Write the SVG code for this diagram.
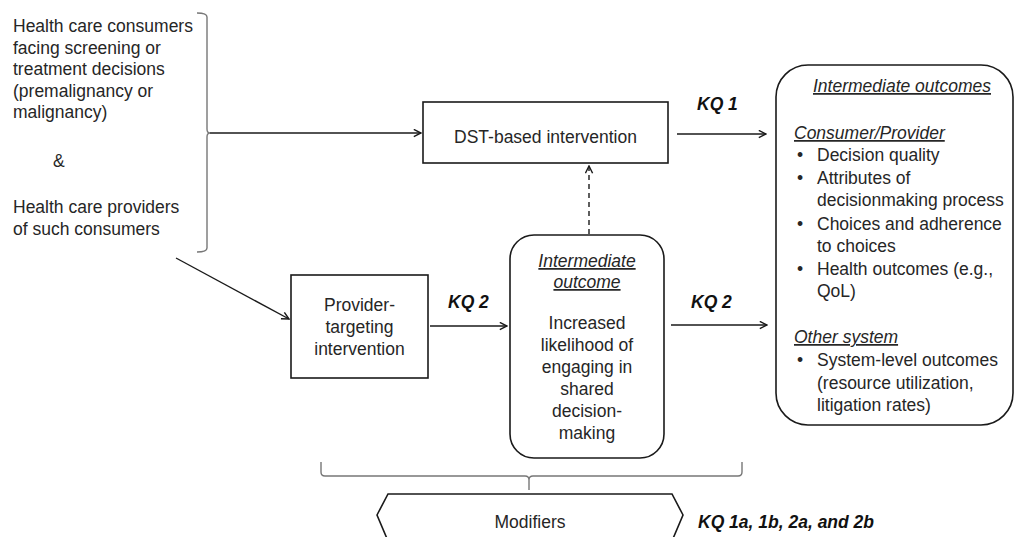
<svg xmlns="http://www.w3.org/2000/svg" width="1017" height="537" viewBox="0 0 1017 537">
<defs>
<style>
text{font-family:"Liberation Sans",Arial,sans-serif;font-size:17.5px;fill:#262626}
.c{text-anchor:middle}
.kq{font-weight:bold;font-style:italic;fill:#111}
.u{font-style:italic;text-decoration:underline}
.box{fill:#fff;stroke:#1a1a1a;stroke-width:1.6}
.br{fill:none;stroke:#777;stroke-width:1.4}
.ln{fill:none;stroke:#1a1a1a;stroke-width:1.4}
</style>
<marker id="ah" viewBox="0 0 10 10" refX="9" refY="5" markerWidth="9" markerHeight="9" markerUnits="userSpaceOnUse" orient="auto">
<path d="M1,1 L9,5 L1,9" fill="none" stroke="#1a1a1a" stroke-width="1.6"/>
</marker>
</defs>
<rect width="1017" height="537" fill="#fff"/>

<g id="populations">
<text x="13" y="32">Health care consumers</text>
<text x="13" y="53.5">facing screening or</text>
<text x="13" y="75">treatment decisions</text>
<text x="13" y="96.5">(premalignancy or</text>
<text x="13" y="118">malignancy)</text>
<text x="53" y="167">&amp;</text>
<text x="13" y="213">Health care providers</text>
<text x="13" y="235">of such consumers</text>
<path class="br" d="M197,13 Q207,13 207,17 L207,129 Q207,133 210,133 Q207,133 207,137 L207,248 Q207,252 197,252"/>
</g>

<g id="dst">
<rect class="box" x="423" y="102" width="245" height="61"/>
<text class="c" x="545.5" y="143">DST-based intervention</text>
</g>

<g id="provider">
<rect class="box" x="291" y="275" width="137" height="103"/>
<text class="c" x="359.5" y="311">Provider-</text>
<text class="c" x="359.5" y="333">targeting</text>
<text class="c" x="359.5" y="355">intervention</text>
</g>

<g id="intermediate">
<rect class="box" x="510" y="235" width="154" height="223" rx="24"/>
<text class="c u" x="587" y="267">Intermediate</text>
<text class="c u" x="587" y="288">outcome</text>
<text class="c" x="587" y="329">Increased</text>
<text class="c" x="587" y="351">likelihood of</text>
<text class="c" x="587" y="373">engaging in</text>
<text class="c" x="587" y="395">shared</text>
<text class="c" x="587" y="417">decision-</text>
<text class="c" x="587" y="439">making</text>
</g>

<g id="outcomes">
<rect class="box" x="776" y="65" width="237" height="360" rx="32"/>
<text class="c u" x="902" y="92">Intermediate outcomes</text>
<text class="u" x="794" y="139">Consumer/Provider</text>
<text x="797" y="161">•</text><text x="817" y="161">Decision quality</text>
<text x="797" y="184">•</text><text x="817" y="184">Attributes of</text>
<text x="817" y="206">decisionmaking process</text>
<text x="797" y="230">•</text><text x="817" y="230">Choices and adherence</text>
<text x="817" y="252">to choices</text>
<text x="797" y="275">•</text><text x="817" y="275">Health outcomes (e.g.,</text>
<text x="817" y="297">QoL)</text>
<text class="u" x="794" y="343">Other system</text>
<text x="797" y="366">•</text><text x="817" y="366">System-level outcomes</text>
<text x="817" y="389">(resource utilization,</text>
<text x="817" y="411">litigation rates)</text>
</g>

<g id="modifiers">
<path class="br" d="M321,462 L321,472 Q321,476 325,476 L525,476 Q529,476 529,480 L529,490 M529,480 Q529,476 533,476 L738,476 Q742,476 742,472 L742,462"/>
<polygon class="box" points="377,515 388,494 672,494 683,515 672,541 388,541"/>
<text class="c" x="530" y="528">Modifiers</text>
<text class="kq" x="698" y="528">KQ 1a, 1b, 2a, and 2b</text>
</g>

<g id="connectors">
<line class="ln" x1="210" y1="133" x2="421" y2="133" marker-end="url(#ah)"/>
<line class="ln" x1="176" y1="258" x2="289" y2="319" marker-end="url(#ah)"/>
<line class="ln" x1="677" y1="134" x2="766" y2="134" marker-end="url(#ah)"/>
<line class="ln" x1="430" y1="326" x2="507" y2="326" marker-end="url(#ah)"/>
<line class="ln" x1="671" y1="325" x2="767" y2="325" marker-end="url(#ah)"/>
<line class="ln" x1="589" y1="234" x2="589" y2="166" stroke-dasharray="5,4" marker-end="url(#ah)"/>
<text class="kq" x="697" y="110">KQ 1</text>
<text class="kq" x="448" y="308">KQ 2</text>
<text class="kq" x="691" y="308">KQ 2</text>
</g>
</svg>
